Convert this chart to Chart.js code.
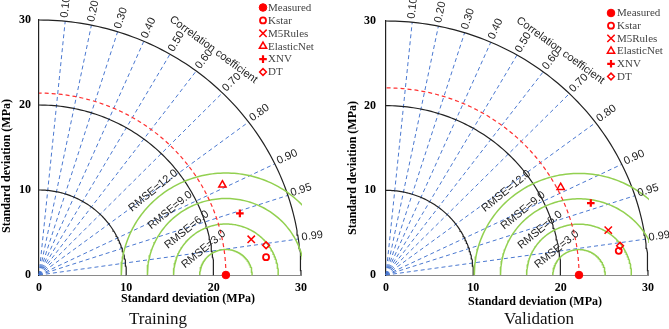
<!DOCTYPE html>
<html><head><meta charset="utf-8">
<script src="https://cdn.jsdelivr.net/npm/chart.js@4"></script>
<style>
html,body{margin:0;padding:0;background:#fff;width:669px;height:329px;overflow:hidden}
.panel{position:absolute;top:0;width:334px;height:329px}
canvas{display:block}
</style></head><body>
<div class="panel" style="left:0"><canvas id="c1" width="334" height="329"></canvas></div>
<div class="panel" style="left:335px"><canvas id="c2" width="334" height="329"></canvas></div>
<script>
// ---------- data ----------
const legendLabels = ['Measured', 'Kstar', 'M5Rules', 'ElasticNet', 'XNV', 'DT'];
const modelNames = ['Kstar', 'M5Rules', 'ElasticNet', 'XNV', 'DT'];
const stdTickValues = [0, 10, 20, 30];
const stdCircles = [10, 20, 30];
const corrLevels = [0.1, 0.2, 0.3, 0.4, 0.5, 0.6, 0.7, 0.8, 0.9, 0.95, 0.99];
const corrLabels = ['0.10', '0.20', '0.30', '0.40', '0.50', '0.60', '0.70', '0.80', '0.90', '0.95', '0.99'];
const rmseLevels = [3, 6, 9, 12];
const rmseLabels = ['RMSE=3.0', 'RMSE=6.0', 'RMSE=9.0', 'RMSE=12.0'];
const axisTitle = 'Standard deviation (MPa)';
const corrTitle = 'Correlation coefficient';

// Training panel (x = sd*cos, y = sd*sin of each model point)
const trainMeasuredStd = 21.4;
const trainX = [26.0, 24.3, 21.0, 23.0, 26.0];
const trainY = [2.1, 4.2, 10.6, 7.25, 3.5];
// Validation panel
const validMeasuredStd = 22.1;
const validX = [26.65, 25.45, 20.0, 23.45, 26.8];
const validY = [2.85, 5.3, 10.35, 8.5, 3.45];

// ---------- styles ----------
const RED = '#ff0000';
const markerStyles = [
  {pointStyle: 'circle', radius: 3.8, fill: RED, bw: 1},
  {pointStyle: 'circle', radius: 3, fill: 'rgba(0,0,0,0)', bw: 1.8},
  {pointStyle: 'crossRot', radius: 5.2, fill: 'rgba(0,0,0,0)', bw: 1.5},
  {pointStyle: 'triangle', radius: 4.2, fill: 'rgba(0,0,0,0)', bw: 1.5},
  {pointStyle: 'cross', radius: 3.8, fill: 'rgba(0,0,0,0)', bw: 2.2},
  {pointStyle: 'rectRot', radius: 3.4, fill: 'rgba(0,0,0,0)', bw: 1.5}
];

const panels = [
  {id: 'c1', measured: trainMeasuredStd, xs: trainX, ys: trainY, caption: 'Training',
   area: {left: 39, right: 301, top: 20, bottom: 275}, yTickPad: 8,
   yTitle: {x: 7, y: 166}, xTitle: {x: 188, y: 299}, captionPos: {x: 158, y: 323.5},
   legend: {x: 263, y: 7.5, step: 12.9, gap: 5}},
  {id: 'c2', measured: validMeasuredStd, xs: validX, ys: validY, caption: 'Validation',
   area: {left: 51, right: 313, top: 21, bottom: 275}, yTickPad: 10,
   yTitle: {x: 18, y: 168}, xTitle: {x: 200, y: 301.5}, captionPos: {x: 204, y: 323.5},
   legend: {x: 276, y: 13, step: 12.7, gap: 6}}
];

function arcPoints(cx, r, a0, a1, n) {
  const pts = [];
  for (let i = 0; i <= n; i++) {
    const a = a0 + (a1 - a0) * i / n;
    pts.push({x: cx + r * Math.cos(a), y: r * Math.sin(a)});
  }
  return pts;
}

function drawMarker(ctx, st, x, y) {
  ctx.save();
  ctx.fillStyle = st.fill;
  ctx.strokeStyle = RED;
  ctx.lineWidth = st.bw;
  if (Chart.helpers && Chart.helpers.drawPoint) {
    Chart.helpers.drawPoint(ctx, {pointStyle: st.pointStyle, radius: st.radius, rotation: 0, borderWidth: st.bw}, x, y);
  }
  ctx.restore();
}

const decorPlugin = {
  id: 'taylorDecor',
  afterDatasetsDraw(chart) {
    const p = chart.options.plugins.taylorDecor.panel;
    const ctx = chart.ctx;
    const sx = chart.scales.x, sy = chart.scales.y;
    const px = (x) => sx.getPixelForValue(x);
    const py = (y) => sy.getPixelForValue(y);
    const ux = px(1) - px(0), uy = py(0) - py(1);
    ctx.save();
    // correlation labels
    ctx.fillStyle = '#222';
    ctx.font = '11px "Liberation Sans", Arial, sans-serif';
    ctx.textAlign = 'left';
    ctx.textBaseline = 'middle';
    corrLevels.forEach((r, i) => {
      const th = Math.acos(r);
      const R = 30.4;
      const x = px(R * Math.cos(th)), y = py(R * Math.sin(th));
      const ang = Math.atan2(-Math.sin(th) * uy, Math.cos(th) * ux);
      ctx.save();
      ctx.translate(x, y);
      ctx.rotate(ang);
      ctx.fillText(corrLabels[i], 0, -1);
      ctx.restore();
    });
    // correlation title
    {
      const phi = 53 * Math.PI / 180, R = 33.2;
      const x = px(R * Math.cos(phi)), y = py(R * Math.sin(phi));
      const ang = Math.atan2(Math.cos(phi) * uy, Math.sin(phi) * ux);
      ctx.save();
      ctx.translate(x, y);
      ctx.rotate(ang);
      ctx.textAlign = 'center';
      ctx.fillText(corrTitle, 0, 0);
      ctx.restore();
    }
    // RMSE labels
    rmseLevels.forEach((k, i) => {
      const phi = 130 * Math.PI / 180, d = k + 0.95;
      const x = px(p.measured + d * Math.cos(phi)), y = py(d * Math.sin(phi));
      const ang = Math.atan2(Math.cos(phi) * uy, Math.sin(phi) * ux);
      ctx.save();
      ctx.translate(x, y);
      ctx.rotate(ang);
      ctx.textAlign = 'center';
      ctx.fillText(rmseLabels[i], 0, 0);
      ctx.restore();
    });
    // legend
    ctx.font = '11px "Liberation Serif", "Times New Roman", serif';
    ctx.fillStyle = '#444';
    ctx.textAlign = 'left';
    ctx.textBaseline = 'middle';
    legendLabels.forEach((lab, i) => {
      const y = p.legend.y + i * p.legend.step;
      drawMarker(ctx, markerStyles[i], p.legend.x, y);
      ctx.fillText(lab, p.legend.x + p.legend.gap, y + 0.5);
    });
    // axis titles
    ctx.fillStyle = '#000';
    ctx.font = 'bold 12px "Liberation Serif", "Times New Roman", serif';
    ctx.textAlign = 'center';
    ctx.fillText(axisTitle, p.xTitle.x, p.xTitle.y);
    ctx.save();
    ctx.translate(p.yTitle.x, p.yTitle.y);
    ctx.rotate(-Math.PI / 2);
    ctx.fillText(axisTitle, 0, 0);
    ctx.restore();
    // caption
    ctx.font = '17px "Liberation Serif", "Times New Roman", serif';
    ctx.fillStyle = '#111';
    ctx.textBaseline = 'alphabetic';
    ctx.fillText(p.caption, p.captionPos.x, p.captionPos.y);
    ctx.restore();
  }
};

function buildChart(p) {
  const datasets = [];
  const geoClip = {left: 2, top: 2, right: 1, bottom: 2};
  // measured + models (on top)
  datasets.push({
    label: legendLabels[0], data: [{x: p.measured, y: 0}], order: 0, clip: false,
    pointStyle: markerStyles[0].pointStyle, pointRadius: markerStyles[0].radius,
    backgroundColor: RED, borderColor: RED, borderWidth: 1, showLine: false
  });
  modelNames.forEach((name, i) => {
    const st = markerStyles[i + 1];
    datasets.push({
      label: name, data: [{x: p.xs[i], y: p.ys[i]}], order: 0, clip: false,
      pointStyle: st.pointStyle, pointRadius: st.radius,
      backgroundColor: st.fill, borderColor: RED, borderWidth: st.bw, showLine: false
    });
  });
  // reference arc (measured std)
  datasets.push({
    label: 'ref', data: arcPoints(0, p.measured, 0, Math.PI / 2, 90), order: 1, clip: geoClip,
    showLine: true, pointRadius: 0, borderColor: '#ff3030', borderWidth: 1.2, borderDash: [4, 3]
  });
  // RMSE arcs
  rmseLevels.forEach((k) => {
    datasets.push({
      label: 'rmse' + k, data: arcPoints(p.measured, k, 0, Math.PI, 120), order: 2, clip: geoClip,
      showLine: true, pointRadius: 0, borderColor: '#92d050', borderWidth: 1.5
    });
  });
  // std circles
  stdCircles.forEach((r) => {
    datasets.push({
      label: 'sd' + r, data: arcPoints(0, r, 0, Math.PI / 2, 90), order: 3, clip: geoClip,
      showLine: true, pointRadius: 0, borderColor: '#222', borderWidth: 1.2
    });
  });
  // correlation rays
  corrLevels.forEach((r) => {
    const th = Math.acos(r);
    datasets.push({
      label: 'corr' + r, data: [{x: 0, y: 0}, {x: 30 * Math.cos(th), y: 30 * Math.sin(th)}], order: 4, clip: geoClip,
      showLine: true, pointRadius: 0, borderColor: '#4a78d0', borderWidth: 1, borderDash: [4, 3]
    });
  });

  const tickFont = {family: '"Liberation Serif", "Times New Roman", serif', weight: 'bold', size: 12};
  const a = p.area;
  return new Chart(document.getElementById(p.id), {
    type: 'scatter',
    data: {datasets},
    options: {
      responsive: false, animation: false, events: [],
      layout: {padding: {left: 0, top: a.top, right: 334 - a.right, bottom: 0}},
      plugins: {legend: {display: false}, tooltip: {enabled: false}, title: {display: false},
                taylorDecor: {panel: p}},
      scales: {
        x: {type: 'linear', min: 0, max: 30,
            afterBuildTicks: (s) => { s.ticks = stdTickValues.map(v => ({value: v})); },
            ticks: {font: tickFont, color: '#000', padding: 6, maxRotation: 0},
            grid: {display: false, drawTicks: false},
            border: {display: true, color: '#8a8a8a', width: 1},
            afterFit: (s) => { s.height = 329 - a.bottom; }},
        y: {type: 'linear', min: 0, max: 30,
            afterBuildTicks: (s) => { s.ticks = stdTickValues.map(v => ({value: v})); },
            ticks: {font: tickFont, color: '#000', padding: p.yTickPad},
            grid: {display: false, drawTicks: false},
            border: {display: true, color: '#222', width: 1.2},
            afterFit: (s) => { s.width = a.left; }}
      }
    },
    plugins: [decorPlugin]
  });
}

panels.forEach(buildChart);
</script>
</body></html>
